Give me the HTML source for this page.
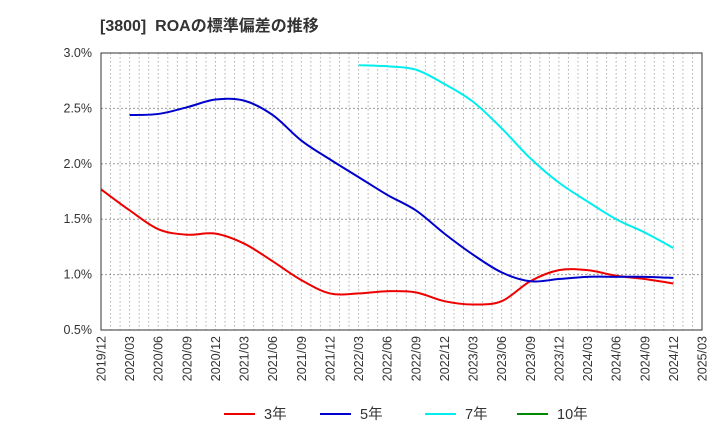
<!DOCTYPE html>
<html><head><meta charset="utf-8"><style>
body{margin:0;background:#fff;}
svg{display:block;font-family:"Liberation Sans","Noto Sans CJK JP",sans-serif;}
</style></head><body>
<svg id="c" width="720" height="440" viewBox="0 0 720 440" xmlns="http://www.w3.org/2000/svg">
<text x="100" y="31" font-size="16" font-weight="bold" fill="#333">[3800]&#160;&#160;ROAの標準偏差の推移</text>
<g id="grid"></g><g id="series"></g><g id="axes"></g>
<g id="legend"></g>
</svg>
<script>
const xLabels=["2019/12","2020/03","2020/06","2020/09","2020/12","2021/03","2021/06","2021/09","2021/12","2022/03","2022/06","2022/09","2022/12","2023/03","2023/06","2023/09","2023/12","2024/03","2024/06","2024/09","2024/12","2025/03"];
const yTicks=[0.5,1.0,1.5,2.0,2.5,3.0];
const s3=[1.77,1.58,1.41,1.36,1.37,1.28,1.12,0.95,0.83,0.83,0.85,0.84,0.76,0.73,0.76,0.94,1.04,1.04,0.99,0.96,0.92];
const s5=[null,2.44,2.45,2.51,2.58,2.57,2.44,2.21,2.04,1.88,1.72,1.58,1.37,1.18,1.02,0.94,0.96,0.98,0.98,0.98,0.97];
const s7=[null,null,null,null,null,null,null,null,null,2.89,2.88,2.85,2.72,2.56,2.32,2.05,1.83,1.66,1.50,1.38,1.24];
const s10=[];
const L=101,R=702,T=53,B=330;
const NS="http://www.w3.org/2000/svg";
const xS=i=>L+(R-L)*i/(xLabels.length-1);
const yS=v=>T+(3.0-v)/2.5*(B-T);
function mk(t,a,p){const e=document.createElementNS(NS,t);for(const k in a)e.setAttribute(k,a[k]);p.appendChild(e);return e;}
const g=document.getElementById('grid'),ax=document.getElementById('axes'),sg=document.getElementById('series'),lg=document.getElementById('legend');
for(let m=1;m<63;m++){const x=L+(R-L)*m/63;
const l=mk('line',{x1:x,x2:x,y1:T,y2:B,stroke:'#b0b0b0','stroke-dasharray':'1.5,2.5','stroke-width':1},g);

}
yTicks.forEach(v=>{const y=yS(v);
const l=mk('line',{x1:L,x2:R,y1:y,y2:y,stroke:'#999','stroke-dasharray':'2,2','stroke-width':1},g);


const t=mk('text',{x:L-9,y:y+4,'text-anchor':'end','font-size':12.5,fill:'#333'},ax);t.textContent=v.toFixed(1)+'%';

});
const fr=mk('rect',{x:L,y:T,width:R-L,height:B-T,fill:'none',stroke:'#333','stroke-width':1},ax);


xLabels.forEach((s,i)=>{const x=xS(i);
const t=mk('text',{transform:`translate(${x+4.5},${B+6}) rotate(-90)`,'text-anchor':'end','font-size':12.5,fill:'#333'},ax);t.textContent=s;

});
function path(arr){const p=[];arr.forEach((v,i)=>{if(v!=null)p.push([xS(i),yS(v)]);});
if(p.length<2)return '';let d=`M${p[0][0]},${p[0][1]}`;
for(let i=0;i<p.length-1;i++){const p0=p[i-1]||p[i],p1=p[i],p2=p[i+1],p3=p[i+2]||p2;
const c1=[p1[0]+(p2[0]-p0[0])/6,p1[1]+(p2[1]-p0[1])/6],c2=[p2[0]-(p3[0]-p1[0])/6,p2[1]-(p3[1]-p1[1])/6];
d+=`C${c1[0]},${c1[1]} ${c2[0]},${c2[1]} ${p2[0]},${p2[1]}`;}return d;}
[[s3,'#e00','3yr'],[s5,'#00c','5yr'],[s7,'#0ee','7yr'],[s10,'#080','10yr']].forEach(([a,c,n])=>{
const d=path(a);if(!d)return;const e=mk('path',{d:d,fill:'none',stroke:c,'stroke-width':2},sg);

});
[['3年','#e00',224],['5年','#00c',320],['7年','#0ee',425],['10年','#080',517]].forEach(([t,c,x])=>{
const l=mk('line',{x1:x,x2:x+31,y1:414,y2:414,stroke:c,'stroke-width':2},lg);


const tx=mk('text',{x:x+40,y:419,'font-size':14.5,fill:'#333'},lg);tx.textContent=t;

});
</script>
</body></html>
